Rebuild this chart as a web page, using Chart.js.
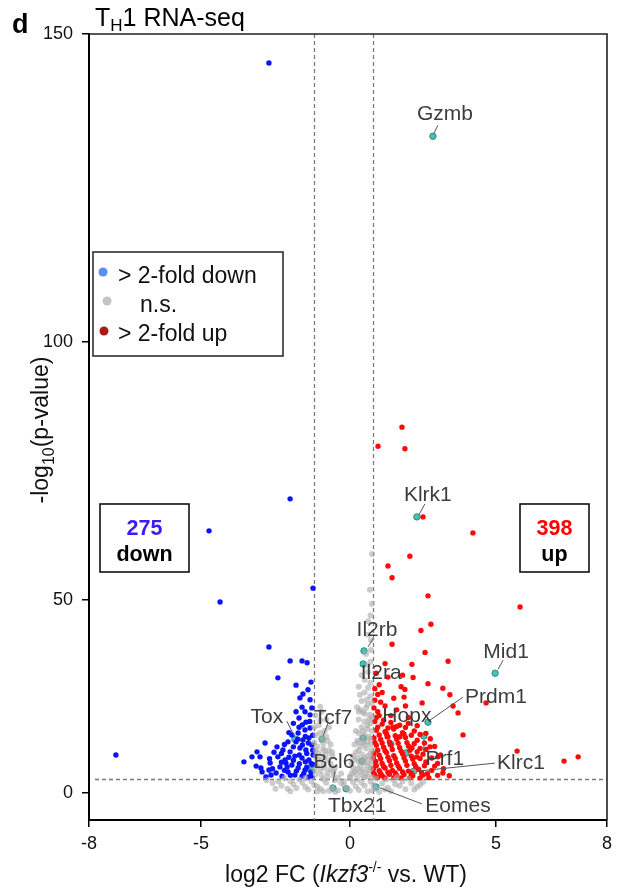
<!DOCTYPE html>
<html>
<head>
<meta charset="utf-8">
<script src="https://cdn.jsdelivr.net/npm/chart.js@4.4.0/dist/chart.umd.min.js"></script>
<style>
  html, body { margin: 0; padding: 0; background: #fff; }
  canvas { display: block; }
</style>
</head>
<body>
<canvas id="volcano" width="619" height="892"></canvas>
<script>
// values: [log2 FC, -log10 p]
const downPoints = [
  [-2.72,145.3],[-2.01,69.6],[-4.73,63.4],[-4.36,49.5],[-1.24,52.3],[-7.28,9.8],
  [-2.72,37.8],[-2.01,34.2],[-1.61,34.2],[-1.44,33.7],[-2.42,29.8],[-1.58,25.6],
  [-1.68,24.6],[-1.34,24.1],[-1.61,22.2],[-1.28,22.0],[-1.71,19.4],[-1.34,20.2],
  [-2.85,12.9],[-2.45,11.9],[-3.56,8.0],[-3.29,9.3],[-3.15,6.9],[-2.99,6.4],
  [-2.72,5.9],[-2.35,6.7],[-2.15,7.7],[-1.95,15.0],[-1.74,15.5],[-1.51,16.3],
  [-1.34,16.8],[-1.81,13.2],[-1.58,13.7],[-1.38,14.2],[-1.28,12.4],[-1.68,11.6],
  [-1.48,11.1],[-2.01,10.6],[-1.85,9.5],[-1.61,9.0],[-1.38,8.5],[-2.18,8.5],
  [-1.95,7.2],[-1.74,6.4],[-1.51,5.9],[-1.31,5.4],[-2.08,5.4],[-1.85,4.6],
  [-1.61,4.3],[-1.38,4.1],[-2.28,4.3],[-2.48,5.1],[-2.65,4.6],[-2.82,4.1],
  [-2.95,5.4],[-2.25,11.1],[-2.08,13.2],[-1.24,9.8],[-1.24,7.2],[-1.71,17.0],
  [-1.48,18.3],[-1.81,21.0],[-1.51,21.0],[-1.41,26.7],[-1.31,28.7],[-1.81,27.9],
  [-3.12,10.6],[-3.02,9.3],[-2.68,7.7],[-2.42,9.3],[-2.11,6.7],
  [-1.3,4.3],[-1.55,5.0],[-1.8,5.6],[-2.0,4.5],[-2.2,5.8],[-1.45,6.6],[-1.7,7.5],
  [-1.9,8.4],[-2.3,7.9],[-1.3,7.6],[-1.5,8.0],[-2.05,9.2],[-1.7,9.8],[-1.45,10.2],
  [-1.25,11.0],[-1.9,11.9],[-1.6,12.4],[-1.4,12.9],[-2.2,12.5],[-1.75,13.9],
  [-1.25,14.9],[-1.5,14.6],[-2.05,15.6],[-1.6,17.6],[-1.35,18.5],[-1.9,18.0],
  [-2.55,10.5],[-2.7,8.8],[-2.3,10.2],[-2.6,6.2]
];

const upPoints = [
  [1.78,83.5],[0.96,79.8],[1.88,79.3],[2.50,66.1],[4.21,63.0],[2.05,58.5],
  [1.30,56.6],[1.44,54.3],[2.67,50.8],[5.65,48.2],[2.77,43.7],[2.43,42.1],
  [1.44,38.5],[2.57,36.4],[3.36,34.1],[2.12,33.3],[2.16,29.9],[2.67,28.3],
  [3.18,27.1],[1.88,26.8],[3.42,25.4],[4.66,23.3],[3.53,22.5],[3.70,20.7],
  [3.87,15.0],[5.57,10.8],[6.84,8.2],[7.22,9.3],
  [1.85,24.8],[2.47,23.3],[2.74,11.9],[3.01,9.3],[3.18,5.1],[2.12,11.6],
  [2.29,9.3],[1.71,14.5],[1.47,17.0],[1.27,14.5],
  [0.85,24],[1.0,28],[0.95,21],[1.2,22.5],[1.1,26],[1.3,30],[1.5,24.5],
  [1.6,21.5],[1.4,20],[1.9,22.5],[1.75,27.5],[2.0,19.5],[0.9,31],[1.2,33.5],
  [1.0,20.0],[1.8,30.5],[0.85,27],[0.95,25.5],[0.82,22],[1.05,23.5],[0.9,19.5],[1.15,18.8],
  [0.85,18.5],[1.1,17.8],[1.4,18.2],[1.7,17.5],[2.0,18.0],
  [0.9,16.2],[1.2,15.8],[1.5,16.5],[1.8,15.6],[2.2,16.0],[2.6,15.4],
  [0.82,14.2],[1.05,13.8],[1.3,14.5],[1.6,13.9],[1.9,14.3],[2.3,13.6],[2.75,14.0],
  [0.9,12.3],[1.15,11.8],[1.4,12.4],[1.7,11.7],[2.0,12.1],[2.4,11.5],[2.9,12.0],
  [0.82,10.2],[1.0,9.7],[1.25,10.4],[1.5,9.6],[1.8,10.1],[2.1,9.5],[2.5,10.0],[3.1,9.8],
  [0.88,8.1],[1.1,7.6],[1.35,8.3],[1.6,7.7],[1.9,8.2],[2.2,7.5],[2.6,8.0],[3.0,7.6],
  [0.8,6.2],[1.0,5.7],[1.2,6.4],[1.45,5.8],[1.7,6.3],[2.0,5.6],[2.35,6.1],[2.8,5.8],[3.2,6.2],
  [0.85,4.6],[1.1,4.4],[1.35,4.8],[1.6,4.5],[1.85,4.7],[2.15,4.4],[2.5,4.6],[3.0,4.5],[3.4,4.4],
  [0.95,3.9],[1.2,3.8],[1.5,3.9],[1.75,3.8],[2.05,3.9],[2.4,3.8],[2.7,3.9],
  [0.8,5.1],[1.05,5.0],[1.3,5.3],[1.55,5.1],[1.8,5.4],[2.1,5.0],[2.45,5.2],[2.65,4.9],
  [0.9,7.0],[1.15,6.8],[1.4,7.1],[1.65,6.9],[1.95,7.1],[2.25,6.8],[2.55,7.0],[2.9,6.9],
  [0.8,9.0],[1.05,8.8],[1.3,9.2],[1.55,8.9],[1.85,9.1],[2.15,8.7],[2.4,8.9],[2.8,9.0],
  [0.95,11.0],[1.2,10.9],[1.45,11.2],[1.75,10.8],[2.05,11.0],[2.3,10.6],[2.6,11.2],
  [0.85,13.0],[1.1,12.9],[1.35,13.2],[1.65,12.8],[1.95,13.0],[2.2,12.7],[2.55,12.9],
  [1.0,15.0],[1.25,15.3],[1.55,14.8],[1.85,15.2],[2.1,14.9],[2.4,15.1],
  [0.95,17.0],[1.3,16.8],[1.6,17.2],[1.9,16.9],[2.3,17.4]
];

const nsPoints = [
  [0.75,49.0],[0.75,58.9],[0.62,44.5],[0.72,39.6],[0.55,36.0],[0.70,34.0],
  [0.62,31.3],[0.51,29.3],[0.62,27.2],[0.34,25.4],[0.58,24.1],[0.75,23.3],
  [0.24,22.2],[0.45,20.9],[0.68,20.2],
  [0.3,19],[0.5,18.5],[0.7,18],[0.4,17],[0.6,16.5],[0.75,16],[0.3,15.5],[0.5,15],
  [0.65,14.5],[0.25,13.5],[0.45,13],[0.7,12.5],[0.35,12],[0.55,11.5],[0.75,11],
  [0.2,10.5],[0.4,10],[0.6,9.5],[0.75,9],[0.15,8.5],[0.3,8],[0.5,7.8],[0.7,7.5],
  [0.1,6.5],[0.25,6.2],[0.45,6],[0.65,5.8],[0.05,5],[0.2,4.8],[0.4,4.5],[0.6,4.3],
  [0.75,4.1],[0.35,21.5],[0.55,22.0],[0.65,19.0],[0.4,14.2],[0.6,13.2],[0.3,11.0],
  [0.5,9.0],[0.7,10.2],[0.35,7.0],[0.55,5.2],
  [0.15,12.5],[0.3,13.0],[0.5,12.5],[0.7,14.0],[0.2,16.0],[0.45,16.0],[0.6,17.5],
  [0.75,19.5],[0.5,20.5],[0.3,21.0],[0.6,22.8],[0.4,23.8],[0.7,25.0],[0.5,26.0],
  [0.3,27.5],[0.7,28.5],[0.4,30.5],[0.6,33.0],[0.72,37.0],[0.6,41.0],[0.7,46],
  [0.68,52],[0.1,9.5],[0.25,9.0],[0.45,8.5],[0.65,8.5],[0.05,7.5],[0.35,5.5],
  [0.6,7.0],[0.72,6.2],[0.15,5.5],[0.5,4.0],
  [-1.15,20],[-0.95,21],[-0.8,19],[-1.05,17.5],[-0.85,16],[-0.7,17],[-1.15,15],
  [-0.95,14],[-0.75,13.5],[-1.1,12],[-0.9,11.5],[-0.7,11],[-1.15,9.5],[-0.95,9],
  [-0.75,8.5],[-0.6,9.5],[-1.1,7],[-0.85,6.5],[-0.65,6],[-1.15,4.8],[-0.95,4.5],
  [-0.75,4],[-0.55,4.5],[-0.5,6.5],[-1.0,18.8],[-0.9,12.8],[-1.05,10.3],[-0.8,10.0],
  [-1.0,5.8],[-0.65,7.5],[-0.4,3.8],[-0.3,5.0],[-0.2,3.0],[0.0,4.2],
  [-1.2,17.0],[-1.2,13.0],[-1.0,15.5],[-0.8,14.5],[-0.65,12.5],[-1.1,8.5],[-0.9,7.5],
  [-0.55,5.5],[-0.75,5.2],[-1.2,6.0],[-0.85,10.8],[-1.0,22.3],[-1.15,11.0],[-0.6,10.5],
  [-2.6,2.5],[-2.3,1.8],[-2.0,3.0],[-1.8,1.2],[-1.6,2.6],[-1.4,0.8],[-1.2,2.0],
  [-1.0,1.0],[-0.8,2.6],[-0.6,1.5],[-0.4,0.6],[-0.3,2.5],[-0.1,1.2],[0.1,2.8],
  [0.3,0.7],[0.5,1.8],[0.7,2.9],[0.9,1.0],[1.1,2.4],[1.3,1.3],[1.5,3.2],[1.7,1.8],
  [1.9,0.9],[2.1,2.4],[2.3,1.5],[-2.2,3.8],[-1.5,3.8],[-0.9,3.5],[0.0,3.8],[0.9,3.6],
  [1.6,4.0],[-2.5,1.0],[2.0,3.6],[-1.1,0.3],[0.6,0.3],[1.4,0.4],[-1.9,2.2],[-0.5,0.2],
  [0.2,1.6],[1.0,0.2],[-2.8,3.2],[2.5,2.8],
  [-2.4,3.0],[-2.1,1.0],[-1.7,3.4],[-1.3,3.0],[-1.1,1.6],[-0.7,0.5],[-0.2,1.9],
  [0.0,0.5],[0.4,2.6],[0.8,2.0],[1.2,0.8],[1.55,2.2],[1.8,3.0],[2.2,0.8],[-1.5,1.5],
  [-0.5,3.2],[0.25,3.4],[1.25,3.4],[-2.0,0.4],[2.4,2.0],[-0.9,0.4],[0.75,0.6]
];

const geneNames = ["Gzmb","Klrk1","Il2rb","Il2ra","Mid1","Prdm1","Hopx","Prf1","Klrc1","Eomes","Tbx21","Bcl6","Tox","Tcf7"];
const geneFC    = [2.84, 2.29, 0.48, 0.45, 4.97, 2.67, 1.40, 2.53, 2.19, 0.89, -0.13, -0.57, -1.85, -0.94];
const genePval  = [133.4, 66.1, 36.8, 33.4, 31.0, 18.3, 12.6, 14.7, 5.6, 1.5, 1.0, 1.2, 13.9, 13.9];
// highlighted genes whose labels are hidden under others
const extraMarked = [[1.92,10.3],[-1.34,6.1],[0.41,8.2],[0.45,14.2]];

const xTicks = [-8, -5, 0, 5, 8];
const yTicks = [0, 50, 100, 150];
const foldCuts = [-1.21, 0.79];
const pCut = 3.55;
const nDown = 275;
const nUp = 398;

// the figure's axes are stretched unevenly between ticks
const xKnotPos = [0, 112, 261, 407, 518];
const yKnotPos = [0, 192.7, 450.7, 758.7];

function warp(v, knots, pos) {
  let i = 0;
  while (i < knots.length - 2 && v > knots[i + 1]) i++;
  const t = (v - knots[i]) / (knots[i + 1] - knots[i]);
  return pos[i] + t * (pos[i + 1] - pos[i]);
}
const tx = (v) => warp(v, xTicks, xKnotPos);
const ty = (v) => warp(v, yTicks, yKnotPos);
const toXY = (p) => ({ x: tx(p[0]), y: ty(p[1]) });

// label placement, pixels relative to the gene's point
const labelLayout = {
  Gzmb:  { text: [12, -22], line: [[1, -3], [5, -11]] },
  Klrk1: { text: [11, -22], line: [[2, -2], [8, -13]] },
  Il2rb: { text: [13, -21], line: [[4, -4], [9, -12]] },
  Il2ra: { text: [18, 9] },
  Mid1:  { text: [11, -21], line: [[3, -4], [8, -13]] },
  Prdm1: { text: [68, -25], line: [[2, -2], [35, -25]] },
  Hopx:  { text: [16, -28] },
  Prf1:  { text: [21, 23], line: [[0, 4], [0, 17]] },
  Klrc1: { text: [107, -8], line: [[4, 0], [81, -8]] },
  Eomes: { text: [82, 19], line: [[4, 1], [46, 17]] },
  Tbx21: { text: [11, 17] },
  Bcl6:  { text: [1, -26], line: [[0, -6], [2, -17]] },
  Tox:   { text: [-28, -22], line: [[-1, -4], [-8, -18]] },
  Tcf7:  { text: [11, -21], line: [[1, -3], [6, -16]] }
};

const FONT = "'Liberation Sans', Arial, Helvetica, sans-serif";

function drawRich(ctx, parts, x, y, align) {
  let total = 0;
  parts.forEach((p) => {
    ctx.font = p.font;
    p.w = ctx.measureText(p.text).width;
    total += p.w;
  });
  let cx = align === "center" ? x - total / 2 : x;
  ctx.textAlign = "left";
  ctx.textBaseline = "alphabetic";
  parts.forEach((p) => {
    ctx.font = p.font;
    ctx.fillText(p.text, cx, y + (p.dy || 0));
    cx += p.w;
  });
}

const decorations = {
  id: "decorations",
  beforeDatasetsDraw(chart) {
    const { ctx, chartArea: a, scales } = chart;
    ctx.save();
    ctx.strokeStyle = "#7a7a7a";
    ctx.lineWidth = 1.3;
    ctx.setLineDash([4, 3]);
    foldCuts.forEach((c) => {
      const px = Math.round(scales.x.getPixelForValue(tx(c))) + 0.5;
      ctx.beginPath();
      ctx.moveTo(px, a.top);
      ctx.lineTo(px, a.bottom);
      ctx.stroke();
    });
    const py = Math.round(scales.y.getPixelForValue(ty(pCut))) + 0.5;
    ctx.beginPath();
    ctx.moveTo(a.left + 6, py);
    ctx.lineTo(a.right, py);
    ctx.stroke();
    ctx.restore();
  },
  afterDatasetsDraw(chart) {
    const { ctx, chartArea: a, scales } = chart;
    ctx.save();

    // top and right frame
    ctx.strokeStyle = "#222";
    ctx.lineWidth = 1.6;
    ctx.beginPath();
    ctx.moveTo(a.left, a.top);
    ctx.lineTo(a.right, a.top);
    ctx.lineTo(a.right, a.bottom);
    ctx.stroke();

    // gene labels
    geneNames.forEach((name, i) => {
      const px = scales.x.getPixelForValue(tx(geneFC[i]));
      const py = scales.y.getPixelForValue(ty(genePval[i]));
      const lay = labelLayout[name];
      if (!lay) return;
      if (lay.line) {
        ctx.strokeStyle = "#555";
        ctx.lineWidth = 1;
        ctx.beginPath();
        ctx.moveTo(px + lay.line[0][0], py + lay.line[0][1]);
        ctx.lineTo(px + lay.line[1][0], py + lay.line[1][1]);
        ctx.stroke();
      }
      ctx.fillStyle = "#3d3d3d";
      ctx.font = "21px " + FONT;
      ctx.textAlign = "center";
      ctx.textBaseline = "middle";
      ctx.fillText(name, px + lay.text[0], py + lay.text[1]);
    });

    // legend
    ctx.fillStyle = "#fff";
    ctx.fillRect(93, 252, 190, 104);
    ctx.strokeStyle = "#222";
    ctx.lineWidth = 1.5;
    ctx.strokeRect(93, 252, 190, 104);
    const legend = [
      { color: "#5b8ff0", x: 103, y: 272, text: "> 2-fold down", tx: 118, ty: 283 },
      { color: "#c4c4c4", x: 107, y: 301, text: "n.s.", tx: 140, ty: 312 },
      { color: "#b01818", x: 104, y: 331, text: "> 2-fold up", tx: 118, ty: 341 }
    ];
    legend.forEach((it) => {
      ctx.fillStyle = it.color;
      ctx.beginPath();
      ctx.arc(it.x, it.y, 4.5, 0, Math.PI * 2);
      ctx.fill();
      ctx.fillStyle = "#111";
      ctx.font = "23px " + FONT;
      ctx.textAlign = "left";
      ctx.textBaseline = "alphabetic";
      ctx.fillText(it.text, it.tx, it.ty);
    });

    // count boxes
    const boxes = [
      { x: 100, w: 89, num: String(nDown), color: "#3b1cff", word: "down" },
      { x: 520, w: 69, num: String(nUp), color: "#ff0000", word: "up" }
    ];
    boxes.forEach((b) => {
      ctx.fillStyle = "#fff";
      ctx.fillRect(b.x, 504, b.w, 68);
      ctx.strokeStyle = "#111";
      ctx.lineWidth = 1.6;
      ctx.strokeRect(b.x, 504, b.w, 68);
      ctx.textAlign = "center";
      ctx.textBaseline = "alphabetic";
      ctx.font = "bold 21.5px " + FONT;
      ctx.fillStyle = b.color;
      ctx.fillText(b.num, b.x + b.w / 2, 535);
      ctx.fillStyle = "#000";
      ctx.fillText(b.word, b.x + b.w / 2, 561);
    });
    ctx.restore();
  },
  afterDraw(chart) {
    const { ctx } = chart;
    ctx.save();
    ctx.fillStyle = "#000";
    ctx.font = "bold 27px " + FONT;
    ctx.textAlign = "left";
    ctx.textBaseline = "alphabetic";
    ctx.fillText("d", 12, 33);

    drawRich(ctx, [
      { text: "T", font: "25px " + FONT },
      { text: "H", font: "17px " + FONT, dy: 5 },
      { text: "1 RNA-seq", font: "25px " + FONT }
    ], 95, 26, "left");

    ctx.fillStyle = "#111";
    drawRich(ctx, [
      { text: "log2 FC (", font: "23px " + FONT },
      { text: "Ikzf3", font: "italic 23px " + FONT },
      { text: "-/-", font: "14px " + FONT, dy: -10 },
      { text: " vs. WT)", font: "23px " + FONT }
    ], 346, 882, "center");

    ctx.translate(48, 430);
    ctx.rotate(-Math.PI / 2);
    drawRich(ctx, [
      { text: "-log", font: "23px " + FONT },
      { text: "10", font: "16px " + FONT, dy: 6 },
      { text: "(p-value)", font: "23px " + FONT }
    ], 0, 0, "center");
    ctx.restore();
  }
};

const tickFont = { family: FONT, size: 18 };

new Chart(document.getElementById("volcano"), {
  type: "scatter",
  data: {
    datasets: [
      { data: nsPoints.map(toXY), backgroundColor: "rgba(170,170,170,0.6)", borderWidth: 0, pointRadius: 3 },
      { data: downPoints.map(toXY), backgroundColor: "#0a14ff", borderWidth: 0, pointRadius: 2.7 },
      { data: upPoints.map(toXY), backgroundColor: "#ff0a0a", borderWidth: 0, pointRadius: 2.7 },
      {
        data: extraMarked.map(toXY).concat(geneFC.map((v, i) => toXY([v, genePval[i]]))),
        backgroundColor: "#48c1b4", borderColor: "#2b8c82", borderWidth: 1, pointRadius: 3.2
      }
    ]
  },
  options: {
    responsive: false,
    animation: false,
    devicePixelRatio: 1,
    events: [],
    layout: { padding: { top: 34, right: 12, left: 0, bottom: 0 } },
    plugins: { legend: { display: false }, tooltip: { enabled: false }, title: { display: false } },
    scales: {
      x: {
        type: "linear",
        min: xKnotPos[0],
        max: xKnotPos[xKnotPos.length - 1],
        afterBuildTicks: (s) => { s.ticks = xTicks.map((v) => ({ value: tx(v) })); },
        afterFit: (s) => { s.height = 72; },
        ticks: {
          autoSkip: false, maxRotation: 0, padding: 6, color: "#111", font: tickFont,
          callback: (val, i) => String(xTicks[i])
        },
        grid: { drawOnChartArea: false, drawTicks: true, tickLength: 7, color: "#000", lineWidth: 1.5 },
        border: { display: true, color: "#000", width: 2 }
      },
      y: {
        type: "linear",
        min: ty(yTicks[0]) - 27.3,
        max: yKnotPos[yKnotPos.length - 1],
        afterBuildTicks: (s) => { s.ticks = yTicks.map((v) => ({ value: ty(v) })); },
        afterFit: (s) => { s.width = 89; },
        ticks: {
          autoSkip: false, padding: 9, color: "#111", font: tickFont,
          callback: (val, i) => String(yTicks[i])
        },
        grid: { drawOnChartArea: false, drawTicks: true, tickLength: 7, color: "#000", lineWidth: 1.5 },
        border: { display: true, color: "#000", width: 2 }
      }
    }
  },
  plugins: [decorations]
});
</script>
</body>
</html>
